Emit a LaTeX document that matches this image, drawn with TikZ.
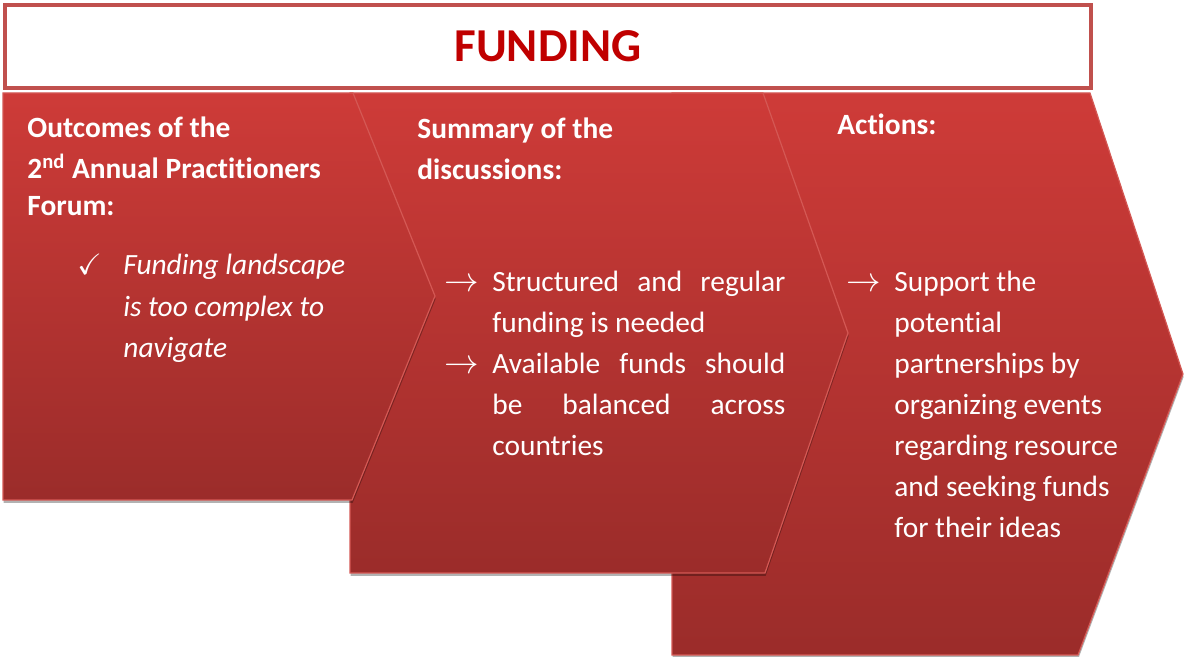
\documentclass[tikz,border=0pt]{standalone}
\usepackage{fontspec}
\setmainfont{Carlito}[Ligatures=NoCommon]
\usepackage{amssymb}
\usetikzlibrary{shadows}
\definecolor{ctop}{RGB}{206,59,56}
\definecolor{cbot}{RGB}{155,44,42}
\definecolor{cedge}{RGB}{212,88,84}
\definecolor{tborder}{RGB}{192,80,77}
\definecolor{ttext}{RGB}{192,0,0}
\begin{document}
\begin{tikzpicture}[x=0.5pt,y=-0.5pt,
  chev/.style={draw=cedge, line width=0.6pt, top color=ctop, bottom color=cbot,
    drop shadow={shadow xshift=0.3pt, shadow yshift=-1.5pt, opacity=0.3, fill=black}},
  txt/.style={inner sep=0pt, anchor=base west, text=white, font=\fontsize{14.7}{19}\selectfont},
  hd/.style={txt, font=\fontsize{14.7}{19}\selectfont\bfseries},
  it/.style={txt, font=\fontsize{14.7}{19}\selectfont\itshape},
  arr/.style={txt, font=\fontsize{17}{19}\selectfont}]
\useasboundingbox (0,0) rectangle (1185,657);
% chevrons
\path[chev] (672,93) -- (1090,93) -- (1183,374) -- (1078,655) -- (672,655) -- cycle;
\path[chev] (350,93) -- (763,93) -- (848,333) -- (765,573) -- (350,573) -- cycle;
\path[chev] (3,93) -- (353,93) -- (435,296) -- (352,500) -- (3,500) -- cycle;
% title
\node[draw=tborder, line width=2pt, fill=white, minimum width=543pt, minimum height=41.5pt,
  inner sep=0pt, text=ttext, font=\fontsize{23.6}{28}\selectfont\bfseries] (title) at (548,46.5) {FUNDING};
% column 1
\node[hd] (h1a) at (27,138) {Outcomes of the};
\node[hd] (h1b) at (27,179) {2\textsuperscript{nd} Annual Practitioners};
\node[hd] (h1c) at (27,216) {Forum:};
\node[txt] (ck) at (77,275) {$\checkmark$};
\node[it] (o1a) at (123,275) {Funding landscape};
\node[it] (o1b) at (123,317) {is too complex to};
\node[it] (o1c) at (123,358) {navigate};
% column 2
\node[hd] (h2a) at (417,139) {Summary of the};
\node[hd] (h2b) at (417,180) {discussions:};
\node[arr] (a2a) at (444,292) {$\rightarrow$};
\node[txt] (s2a) at (492,292) {\makebox[146.5pt][s]{Structured and regular}};
\node[txt] (s2b) at (492,333) {funding is needed};
\node[arr] (a2b) at (444,374) {$\rightarrow$};
\node[txt] (s2c) at (492,374) {\makebox[146.5pt][s]{Available funds should}};
\node[txt] (s2d) at (492,415) {\makebox[146.5pt][s]{be balanced across}};
\node[txt] (s2e) at (492,456) {countries};
% column 3
\node[hd] (h3) at (837,135) {Actions:};
\node[arr] (a3) at (846,292) {$\rightarrow$};
\node[txt] (s3a) at (894,292) {Support the};
\node[txt] (s3b) at (894,333) {potential};
\node[txt] (s3c) at (894,374) {partnerships by};
\node[txt] (s3d) at (894,415) {organizing events};
\node[txt] (s3e) at (894,456) {regarding resource};
\node[txt] (s3f) at (894,497) {and seeking funds};
\node[txt] (s3g) at (894,538) {for their ideas};
\end{tikzpicture}
\end{document}
